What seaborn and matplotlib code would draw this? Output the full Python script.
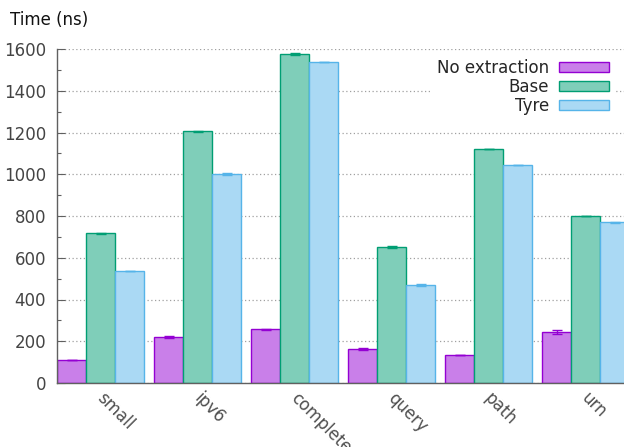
import matplotlib
matplotlib.use("Agg")
import matplotlib.pyplot as plt
import matplotlib.transforms as mtransforms
import seaborn as sns
import pandas as pd
import numpy as np

categories = ["small", "ipv6", "complete", "query", "path", "urn"]
series_names = ["No extraction", "Base", "Tyre"]
no_extraction = [110, 220, 257, 165, 135, 244]
base = [718, 1206, 1577, 652, 1121, 800]
tyre = [537, 1001, 1538, 470, 1043, 769]
no_extraction_err = [1, 3, 3, 5, 1, 8]
base_err = [2, 2, 4, 3, 2, 2]
tyre_err = [1, 3, 2, 4, 1, 2]
y_ticks = [0, 200, 400, 600, 800, 1000, 1200, 1400, 1600]

line_colors = ["#9400d3", "#009e73", "#56b4e9"]
fill_colors = ["#c97fe9", "#7fceb9", "#aad9f4"]

rows = []
for name, vals, errs in zip(series_names, [no_extraction, base, tyre],
                            [no_extraction_err, base_err, tyre_err]):
    for c, v, e in zip(categories, vals, errs):
        rows.append({"cat": c, "series": name, "value": v, "err": e})
df = pd.DataFrame(rows)

sns.set_theme(style="white")
plt.rcParams["font.family"] = ["DejaVu Sans"]

fig = plt.figure(figsize=(6.24, 4.47), dpi=100)
ax = fig.add_axes([57 / 624, (447 - 383) / 447, (624 - 57) / 624, (383 - 49) / 447])

sns.barplot(data=df, x="cat", y="value", hue="series", order=categories,
            hue_order=series_names, palette=fill_colors, width=0.9,
            errorbar=None, saturation=1, ax=ax, zorder=2)

# edges and error bars
for i, (name, cont) in enumerate(zip(series_names, ax.containers)):
    sub = df[df.series == name].set_index("cat").loc[categories]
    xs = []
    for p in cont.patches:
        p.set_edgecolor(line_colors[i])
        p.set_linewidth(1.0)
        xs.append(p.get_x() + p.get_width() / 2)
    ax.errorbar(xs, sub["value"].values, yerr=sub["err"].values, fmt="none",
                ecolor=line_colors[i], elinewidth=1.0, capsize=3.5, capthick=1.0,
                zorder=3)

ax.set_xlim(-0.45, -0.45 + (624 - 57) / 97)
ax.set_ylim(0, 1600)
ax.set_yticks(y_ticks)
ax.set_yticks(np.arange(100, 1600, 200), minor=True)
ax.yaxis.grid(True, which="major", color="#a0a0a0", linestyle=(0, (1, 2)), linewidth=0.9)
ax.set_axisbelow(True)
ax.tick_params(axis="y", which="major", direction="in", length=6, width=0.8,
               color="#606060", labelsize=12, labelcolor="#444444", pad=8, left=True)
ax.tick_params(axis="y", which="minor", direction="in", length=3, width=0.8,
               color="#606060", left=True)
ax.tick_params(axis="x", length=0, labelsize=12, labelcolor="#505050", pad=6)
shift = mtransforms.ScaledTranslation(5 / 100, 2 / 100, fig.dpi_scale_trans)
for lab in ax.get_xticklabels():
    lab.set_rotation(-45)
    lab.set_ha("left")
    lab.set_va("top")
    lab.set_rotation_mode("anchor")
    lab.set_transform(lab.get_transform() + shift)
ax.set_xlabel("")
ax.set_ylabel("")
for s in ["top", "right"]:
    ax.spines[s].set_visible(False)
for s in ["left", "bottom"]:
    ax.spines[s].set_color("#606060")
    ax.spines[s].set_linewidth(1.0)

handles, labels = ax.get_legend_handles_labels()
for h, lc in zip(handles, line_colors):
    h.set_edgecolor(lc)
    h.set_linewidth(1.0)
leg = ax.legend(handles, labels, loc="upper right",
                bbox_to_anchor=(616 / 624, 1 - 52 / 447), bbox_transform=fig.transFigure,
                markerfirst=False, frameon=True, fancybox=False, framealpha=1,
                facecolor="white", edgecolor="none", fontsize=12,
                handlelength=3.0, handleheight=0.6, labelspacing=0.06,
                handletextpad=0.6, borderpad=0.4, borderaxespad=0)
leg.set_zorder(5)

fig.text(10 / 624, 1 - 20 / 447, "Time (ns)", fontsize=12, va="center", ha="left",
         color="#111111")

fig.savefig("out.png", dpi=100)
